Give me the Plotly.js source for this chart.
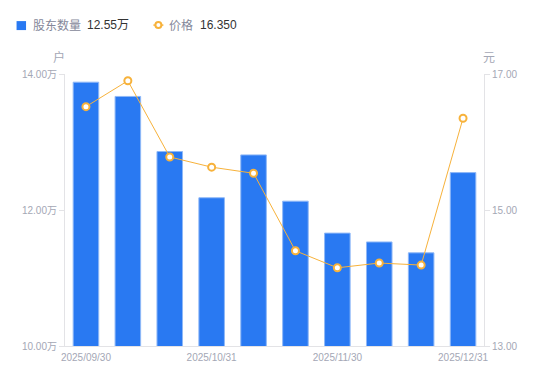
<!DOCTYPE html>
<html>
<head>
<meta charset="utf-8">
<script src="https://cdn.plot.ly/plotly-3.0.1.min.js"></script>
<style>html,body{margin:0;padding:0;background:#fff;}#chart{width:550px;height:381px;}</style>
</head>
<body>
<div id="chart"></div>
<script>
const dates = ["2025/09/30","2025/10/10","2025/10/20","2025/10/31","2025/11/10","2025/11/20","2025/11/30","2025/12/10","2025/12/20","2025/12/31"];
const holders = [13.88, 13.67, 12.86, 12.18, 12.81, 12.13, 11.66, 11.53, 11.37, 12.55];
const prices = [16.52, 16.90, 15.78, 15.63, 15.54, 14.40, 14.15, 14.22, 14.19, 16.35];
const xTickVals = ["2025/09/30","2025/10/31","2025/11/30","2025/12/31"];
const leftTicks = [10, 12, 14];
const rightTicks = [13, 15, 17];

const FONT = "Liberation Sans, Arial, Noto Sans CJK SC, sans-serif";
const TICKC = "#a4a7b5";
const AXC = "#e3e3e6";
const BLUE = "#2979f2";
const ORANGE = "#f7b23b";

const L = 65, R = 65.5, T = 73.5, B = 35;
const PW = 550 - L - R, PH = 381 - T - B;
const px = x => (x - L) / PW;
const py = y => (381 - B - y) / PH;

const traces = [
  {type:"bar", x:dates, y:holders, yaxis:"y", marker:{color:BLUE, line:{color:"#8fb8f7", width:1}}, hoverinfo:"skip"},
  {type:"scatter", mode:"lines+markers", x:dates, y:prices, yaxis:"y2",
   line:{color:ORANGE, width:1}, marker:{color:"#fff", size:7, line:{color:ORANGE, width:2}}, hoverinfo:"skip"}
];

const layout = {
  width:550, height:381,
  margin:{l:L, r:R, t:T, b:B},
  paper_bgcolor:"#fff", plot_bgcolor:"#fff",
  showlegend:false, bargap:0.39,
  font:{family:FONT, size:10, color:TICKC},
  xaxis:{type:"category", range:[-0.5, dates.length-0.5], tickvals:xTickVals, ticktext:xTickVals, showgrid:false, zeroline:false,
         showline:true, linecolor:AXC, linewidth:1, ticks:"outside", ticklen:2, tickcolor:"rgba(0,0,0,0)",
         tickfont:{size:10, color:TICKC}, automargin:false},
  yaxis:{range:[10,14], tickvals:leftTicks, ticktext:leftTicks.map(v=>v.toFixed(2)+"万"),
         showgrid:false, zeroline:false, showline:true, linecolor:AXC, linewidth:1, automargin:false,
         ticks:"outside", ticklen:5, tickcolor:AXC, tickfont:{size:10, color:TICKC}},
  yaxis2:{range:[13,17], overlaying:"y", side:"right", tickvals:rightTicks, ticktext:rightTicks.map(v=>v.toFixed(2)),
         showgrid:false, zeroline:false, showline:true, linecolor:AXC, linewidth:1, automargin:false,
         ticks:"outside", ticklen:5, tickcolor:AXC, tickfont:{size:10, color:TICKC}},
  shapes:[
    {type:"rect", xref:"paper", yref:"paper", x0:px(16.5), x1:px(26), y0:py(29.5), y1:py(20.5), fillcolor:BLUE, line:{width:0}},
    {type:"line", xref:"paper", yref:"paper", x0:px(153.5), x1:px(163.5), y0:py(24.5), y1:py(24.5), line:{color:ORANGE, width:1.5}},
    {type:"circle", xref:"paper", yref:"paper", x0:px(155.5), x1:px(161.5), y0:py(27.5), y1:py(21.5), fillcolor:"#fff", line:{color:ORANGE, width:2}}
  ],
  annotations:[
    {xref:"paper", yref:"paper", x:px(31), y:py(24.5), xanchor:"left", yanchor:"middle", showarrow:false,
     text:"股东数量", font:{size:12, color:"#85889a"}},
    {xref:"paper", yref:"paper", x:px(85), y:py(24.5), xanchor:"left", yanchor:"middle", showarrow:false,
     text:holders[holders.length-1].toFixed(2)+"万", font:{size:12, color:"#333"}},
    {xref:"paper", yref:"paper", x:px(167), y:py(24.5), xanchor:"left", yanchor:"middle", showarrow:false,
     text:"价格", font:{size:12, color:"#85889a"}},
    {xref:"paper", yref:"paper", x:px(198.5), y:py(24.5), xanchor:"left", yanchor:"middle", showarrow:false,
     text:prices[prices.length-1].toFixed(3), font:{size:12, color:"#333"}},
    {xref:"paper", yref:"paper", x:px(59), y:py(57), xanchor:"center", yanchor:"middle", showarrow:false,
     text:"户", font:{size:12, color:TICKC}},
    {xref:"paper", yref:"paper", x:px(490), y:py(57), xanchor:"center", yanchor:"middle", showarrow:false,
     text:"元", font:{size:12, color:TICKC}}
  ]
};

Plotly.newPlot("chart", traces, layout, {displayModeBar:false, staticPlot:true});
</script>
</body>
</html>
